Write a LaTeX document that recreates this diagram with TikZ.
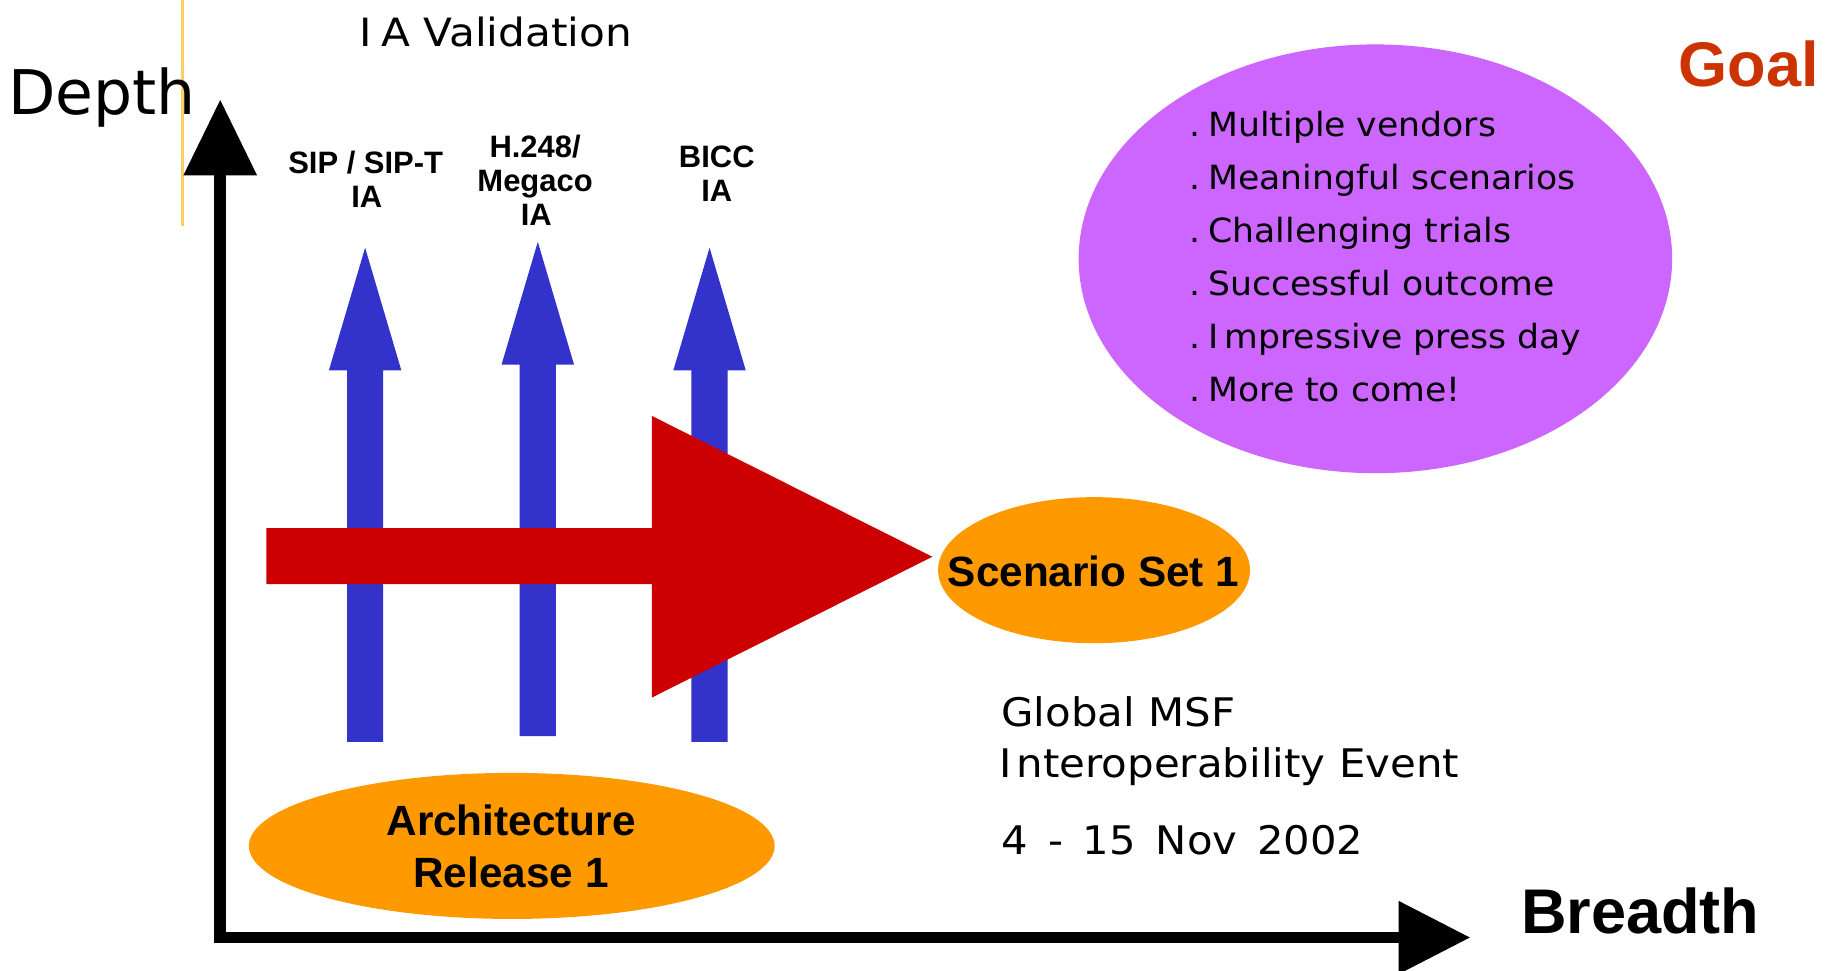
\documentclass[tikz,border=0pt]{standalone}
\usepackage{fontspec}
\setmainfont{DejaVu Sans}
\newfontfamily\arial{Liberation Sans}
\usetikzlibrary{shapes.geometric}
\definecolor{blueA}{HTML}{3333CC}
\definecolor{redA}{HTML}{CC0000}
\definecolor{orangeA}{HTML}{FF9900}
\definecolor{purpleA}{HTML}{CC66FF}
\definecolor{goalC}{HTML}{CC3300}
\definecolor{guideC}{HTML}{FFCC66}
\newcommand\sx[2]{\scalebox{#1}[1]{#2}}
\newcommand\blueup[4]{% center x, tip y, head base y, bottom y
  \fill[blueA] ({#1-15.5},#4) -- ({#1-15.5},#3) -- ({#1-31},#3) -- (#1,#2)
    -- ({#1+31},#3) -- ({#1+15.5},#3) -- ({#1+15.5},#4) -- cycle;}
\begin{document}
\begin{tikzpicture}[x=1pt,y=-1pt,
  lab/.style={inner sep=0pt, anchor=base, font=\arial\bfseries\fontsize{26.5}{30}\selectfont},
  big/.style={inner sep=0pt, anchor=base west, font=\arial\bfseries\fontsize{54}{60}\selectfont},
  mid/.style={inner sep=0pt, anchor=base, font=\arial\bfseries\fontsize{36.2}{42}\selectfont},
  sans/.style={inner sep=0pt, anchor=base west},
  bullet/.style={sans, font=\fontsize{28.5}{34}\selectfont},
  event/.style={sans, font=\fontsize{33.7}{40}\selectfont},
  blob/.style={ellipse, inner sep=0pt, draw=none},
  axis/.style={line width=10pt, black},
]
\useasboundingbox (0,0) rectangle (1568,831);

% guide line
\draw[guideC, line width=2.5pt] (156.4,0) -- (156.4,193.4);

% titles
\node[sans, font=\fontsize{52.7}{60}\selectfont] (depth) at (6.8,98.4) {Depth};
\node[sans, font=\fontsize{33.3}{40}\selectfont] (iaval) at (307.9,40) {\sx{1.085}{I\kern7pt A Validation}};
\node[big, text=goalC] (goal) at (1436.6,74.2) {Goal};
\node[big] (breadth) at (1301.7,798.6) {Breadth};

% goal ellipse
\node[blob, fill=purpleA, minimum width=508pt, minimum height=367pt] (goalell) at (1177.2,221.5) {};
\node[bullet] (b1) at (1018.3,116.8) {\sx{1.04}{.\hspace{6.1pt}Multiple vendors}};
\node[bullet] (b2) at (1018.3,162.2) {\sx{1.04}{.\hspace{6.1pt}Meaningful scenarios}};
\node[bullet] (b3) at (1018.3,207.6) {\sx{1.04}{.\hspace{6.1pt}Challenging trials}};
\node[bullet] (b4) at (1018.3,253.0) {\sx{1.04}{.\hspace{6.1pt}Successful outcome}};
\node[bullet] (b5) at (1018.3,298.4) {\sx{1.04}{.\hspace{6.1pt}I\kern5pt mpressive press day}};
\node[bullet] (b6) at (1018.3,343.8) {\sx{1.04}{.\hspace{6.1pt}More to come!}};

% protocol labels
\node[lab] (sip) at (313,148.4) {SIP / SIP-T};
\node[lab] (sipia) at (314,177.4) {IA};
\node[lab] (h248) at (458,134.7) {H.248/};
\node[lab] (mega) at (458,163.7) {Megaco};
\node[lab] (h248ia) at (459,192.7) {IA};
\node[lab] (bicc) at (613.5,143.5) {BICC};
\node[lab] (biccia) at (613.5,172.8) {IA};

% blue arrows
\blueup{312.5}{212}{317}{635}
\blueup{460.3}{207}{312}{630}
\blueup{607.3}{212}{317}{635}

% red arrow
\fill[redA] (228,452) -- (558,452) -- (558,356) -- (798,476.5) -- (558,597)
  -- (558,500) -- (228,500) -- cycle;

% scenario set
\node[blob, fill=orangeA, minimum width=267pt, minimum height=125pt] (scen) at (936.4,488) {};
\node[mid] (scentxt) at (936,502) {Scenario Set 1};

% architecture
\node[blob, fill=orangeA, minimum width=450pt, minimum height=125pt] (arch) at (438,724) {};
\node[mid] (arch1) at (437.4,715.5) {Architecture};
\node[mid] (arch2) at (437.4,759.7) {Release 1};

% event text
\node[event] (ev1) at (857,621.4) {\sx{1.063}{Global MSF}};
\node[event] (ev2) at (855.5,665.6) {\sx{1.065}{I\kern3.7pt nteroperability Event}};
\node[event] (ev3) at (857.2,731) {\sx{1.06}{\spaceskip=16pt\relax 4 - 15 Nov 2002}};

% axes
\coordinate (ytip) at (188.5,85.6);
\coordinate (xtip) at (1258,802.4);
\coordinate (ybase) at (188.5,150);
\coordinate (xbase) at (1197,802.4);
\draw[axis] (ybase) |- (xbase);
\fill[black] (157,150) -- (ytip) -- (220,150) -- cycle;
\fill[black] (1197,771) -- (xtip) -- (1197,833.8) -- cycle;
\end{tikzpicture}
\end{document}
